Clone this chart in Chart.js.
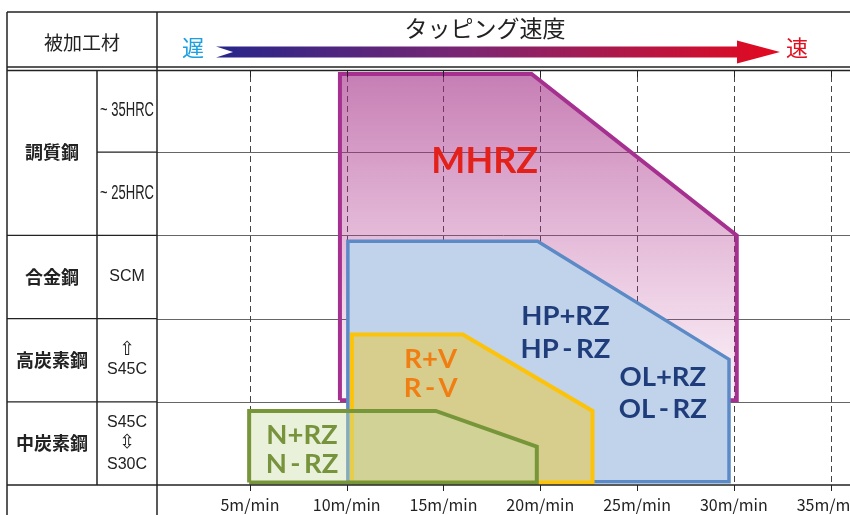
<!DOCTYPE html>
<html>
<head>
<meta charset="utf-8">
<script src="https://cdn.jsdelivr.net/npm/chart.js@4.4.1/dist/chart.umd.min.js"></script>
<style>
  html, body { margin: 0; padding: 0; background: #fff; }
  #wrap { width: 850px; height: 515px; position: relative; }
</style>
</head>
<body>
<div id="wrap"><canvas id="chart"></canvas></div>
<script>
// speed ticks (m/min)
const speedTicks = [5, 10, 15, 20, 25, 30, 35];

// rows, top to bottom: [main material, sub label]
const rowNames = ["調質鋼", "調質鋼", "合金鋼", "高炭素鋼", "中炭素鋼"];
const rowSubs = [["~35HRC"], ["~25HRC"], ["SCM"], ["⇧", "S45C"], ["S45C", "⇳", "S30C"]];

// tool ranges: x = speed (m/min), y = row position (0 = bottom, 5 = top)
const mhrzX = [9.65, 9.65, 19.55, 30.15, 30.15, 9.65];
const mhrzY = [1.02, 4.94, 4.94, 3.0, 1.02, 1.02];
const hpX = [10.06, 10.06, 19.86, 29.75, 29.75, 10.06];
const hpY = [0.04, 2.93, 2.93, 1.51, 0.04, 0.04];
const rvX = [10.27, 10.27, 16.0, 22.7, 22.7, 10.27];
const rvY = [0.03, 1.81, 1.81, 0.89, 0.03, 0.03];
const nX = [4.96, 4.96, 14.6, 19.82, 19.82, 4.96];
const nY = [0.03, 0.89, 0.89, 0.46, 0.03, 0.03];

function pts(xs, ys){
  return xs.map((x, i) => ({x: x, y: ys[i]}));
}

/* labels inside the shapes */
const shapeLabels = [
  {lines: ["MHRZ"], x: 17.13, y: 3.89, color: "#e3211b", size: 36, gap: 0},
  {lines: ["HP+RZ", "HP\u2009-\u2009RZ"], x: 21.3, y: 1.83, color: "#1f3d7a", size: 27.5, gap: 33},
  {lines: ["OL+RZ", "OL\u2009-\u2009RZ"], x: 26.33, y: 1.11, color: "#1f3d7a", size: 27.5, gap: 32},
  {lines: ["R+V", "R\u2009-\u2009V"], x: 14.34, y: 1.34, color: "#f07e12", size: 27.5, gap: 29},
  {lines: ["N+RZ", "N\u2009-\u2009RZ"], x: 7.69, y: 0.43, color: "#77933c", size: 27.5, gap: 29}
];

const JP = '"Noto Sans CJK JP", "Noto Sans", sans-serif';

/* GRID (under shapes) */
const gridPlugin = {
  id: "grid",
  beforeDatasetsDraw(chart){
    const c = chart.ctx;
    const a = chart.chartArea;
    const xs = chart.scales.x, ys = chart.scales.y;
    c.save();
    // row lines
    c.strokeStyle = "#666";
    c.lineWidth = 1;
    [1, 2, 3, 4].forEach(v => {
      const y = Math.round(ys.getPixelForValue(v)) + 0.5;
      c.beginPath(); c.moveTo(a.left, y); c.lineTo(a.right, y); c.stroke();
    });
    // dashed speed lines
    c.strokeStyle = "#444";
    c.setLineDash([6, 4]);
    speedTicks.forEach(v => {
      const x = Math.round(xs.getPixelForValue(v)) + 0.5;
      c.beginPath(); c.moveTo(x, a.top + 7); c.lineTo(x, a.bottom); c.stroke();
    });
    c.restore();
  },
  afterDatasetsDraw(chart){
    const c = chart.ctx;
    const xs = chart.scales.x, ys = chart.scales.y;
    c.save();
    c.textAlign = "center";
    c.textBaseline = "middle";
    shapeLabels.forEach(l => {
      c.fillStyle = l.color;
      c.font = "bold " + l.size + 'px Lato, "Open Sans", sans-serif';
      const cx = xs.getPixelForValue(l.x);
      const cy = ys.getPixelForValue(l.y);
      const n = l.lines.length;
      l.lines.forEach((t, i) => {
        c.fillText(t, cx, cy + (i - (n - 1) / 2) * l.gap);
      });
    });
    c.restore();
  },
  afterDraw(chart){
    const c = chart.ctx;
    const a = chart.chartArea;
    const xs = chart.scales.x, ys = chart.scales.y;
    const L = 7, C1 = 97, C2 = a.left, W = chart.width, H = chart.height;
    c.save();
    c.strokeStyle = "#222";
    c.lineWidth = 1.5;
    const line = (x1, y1, x2, y2) => { c.beginPath(); c.moveTo(x1, y1); c.lineTo(x2, y2); c.stroke(); };

    // table frame
    line(L, 12, W, 12);
    line(L, 12, L, H);
    line(C2, 12, C2, H);
    line(L, 67, W, 67);
    line(L, 70.5, W, 70.5);
    const yb = ys.getPixelForValue(0);
    line(C1, 70.5, C1, yb);
    c.lineWidth = 1.2;
    line(C1, ys.getPixelForValue(4), C2, ys.getPixelForValue(4));
    [3, 2, 1].forEach(v => line(L, ys.getPixelForValue(v), C2, ys.getPixelForValue(v)));
    c.lineWidth = 1.5;
    line(L, yb, W, yb);

    // ticks top and bottom
    c.lineWidth = 1;
    speedTicks.forEach(v => {
      const x = Math.round(xs.getPixelForValue(v)) + 0.5;
      line(x, 70, x, 77);
      line(x, yb, x, yb + 6);
    });

    // tick labels
    c.fillStyle = "#222";
    c.font = "16px " + JP;
    c.textAlign = "center";
    c.textBaseline = "middle";
    speedTicks.forEach(v => c.fillText(v + "m/min", xs.getPixelForValue(v), 505));

    // header
    c.font = "19px " + JP;
    c.fillText("被加工材", (L + C2) / 2, 43);
    c.font = "23px " + JP;
    c.fillText("タッピング速度", 485, 28);
    c.font = "22px " + JP;
    c.fillStyle = "#1ba0e0";
    c.fillText("遅", 193, 48);
    c.fillStyle = "#e0101e";
    c.fillText("速", 797, 48);

    // speed arrow
    const g = c.createLinearGradient(216, 0, 780, 0);
    g.addColorStop(0, "#26268a");
    g.addColorStop(0.45, "#7c2672");
    g.addColorStop(1, "#e4091e");
    c.fillStyle = g;
    c.beginPath();
    c.moveTo(216, 46.5);
    c.lineTo(737, 46.5);
    c.lineTo(737, 40.5);
    c.lineTo(780, 52);
    c.lineTo(737, 63.5);
    c.lineTo(737, 57.5);
    c.lineTo(216, 57.5);
    c.lineTo(233, 52);
    c.closePath();
    c.fill();

    // row labels
    c.fillStyle = "#222";
    c.font = "bold 18px " + JP;
    c.fillText("調質鋼", (L + C1) / 2, ys.getPixelForValue(4));
    [2, 3, 4].forEach(i => c.fillText(rowNames[i], (L + C1) / 2, ys.getPixelForValue(4.5 - i)));

    const cx2 = (C1 + C2) / 2;
    rowSubs.forEach((subs, i) => {
      const cy = ys.getPixelForValue(4.5 - i);
      const n = subs.length;
      subs.forEach((t, k) => {
        const off = n === 1 ? 0 : (n === 2 ? (k === 0 ? -10 : 9) : (k - 1) * 21);
        if (t.startsWith("~")) {
          // condensed hardness label
          c.save();
          c.translate(cx2, cy + off);
          c.scale(0.65, 1);
          c.font = '20px "Liberation Sans", sans-serif';
          c.fillText(t.replace("~", "~ "), 0, 0);
          c.restore();
          return;
        }
        if (t === "⇧" || t === "⇳") c.font = '19px "DejaVu Sans", sans-serif';
        else c.font = '16px "Liberation Sans", sans-serif';
        c.fillText(t, cx2, cy + off);
      });
    });
    c.restore();
  }
};

const mhrzFill = (ctx) => {
  const chart = ctx.chart;
  if (!chart.chartArea) return "rgba(160,40,130,0.3)";
  const y0 = chart.scales.y.getPixelForValue(4.94);
  const y1 = chart.scales.y.getPixelForValue(1.02);
  const g = chart.ctx.createLinearGradient(0, y0, 0, y1);
  g.addColorStop(0, "rgba(160,40,130,0.6)");
  g.addColorStop(1, "rgba(190,60,150,0.06)");
  return g;
};

function shape(label, data, stroke, fill, width, order){
  return {
    label: label,
    data: data,
    showLine: true,
    fill: "shape",
    borderColor: stroke,
    backgroundColor: fill,
    borderWidth: width,
    borderJoinStyle: "miter",
    pointRadius: 0,
    tension: 0,
    order: order
  };
}

new Chart(document.getElementById("chart"), {
  type: "scatter",
  data: {
    datasets: [
      shape("MHRZ", pts(mhrzX, mhrzY), "#a5308f", mhrzFill, 4, 4),
      shape("HP/OL", pts(hpX, hpY), "#5b8ac6", "#c1d3ea", 3.5, 3),
      shape("R+V", pts(rvX, rvY), "#fcc30a", "#d7cd8d", 4, 2),
      shape("N+RZ", pts(nX, nY), "#77963a", "rgba(200,220,165,0.4)", 4, 1)
    ]
  },
  options: {
    responsive: true,
    maintainAspectRatio: false,
    devicePixelRatio: 1,
    animation: false,
    layout: { padding: { left: 157, top: 69, right: 0, bottom: 30 } },
    plugins: { legend: { display: false }, tooltip: { enabled: false } },
    scales: {
      x: { type: "linear", min: 0.2, max: 36, display: false },
      y: { type: "linear", min: 0, max: 5, display: false }
    }
  },
  plugins: [gridPlugin]
});
</script>
</body>
</html>
